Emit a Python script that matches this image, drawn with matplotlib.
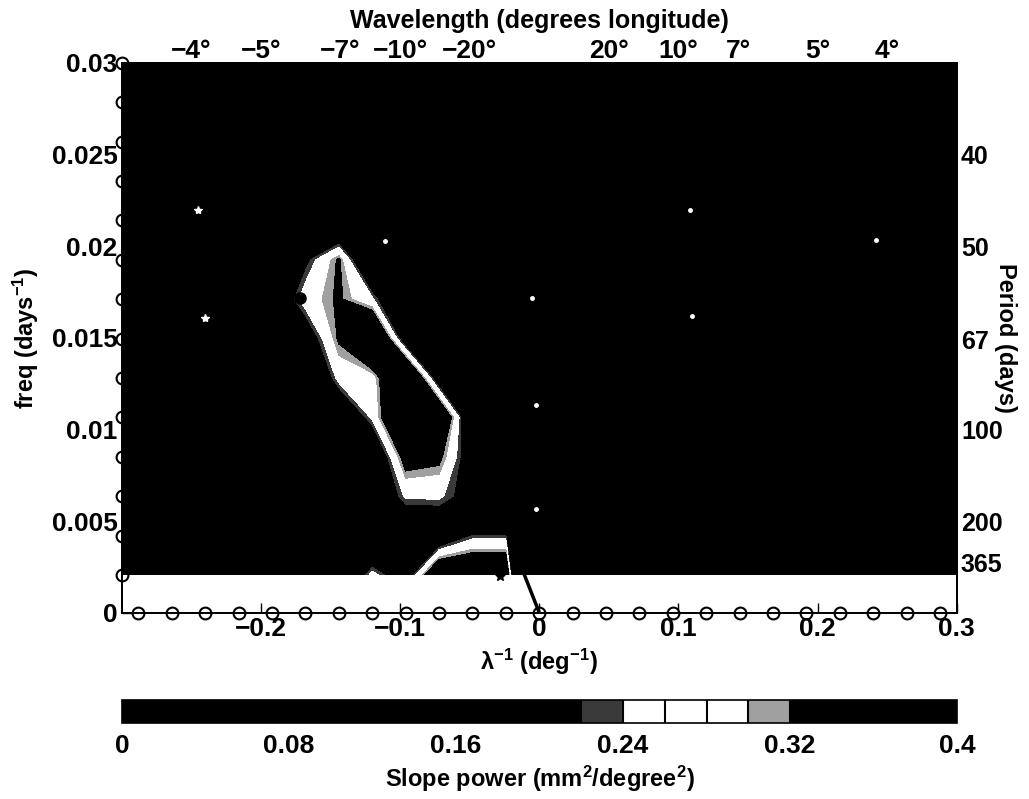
import numpy as np
import matplotlib
matplotlib.use('Agg')
import matplotlib.pyplot as plt
import matplotlib.cm as cm
from matplotlib.colors import ListedColormap, BoundaryNorm

plt.rcParams['font.family'] = ['Liberation Sans', 'DejaVu Sans']
plt.rcParams['font.weight'] = 'bold'
plt.rcParams['axes.labelweight'] = 'bold'
plt.rcParams['mathtext.fontset'] = 'custom'
plt.rcParams['mathtext.rm'] = 'Liberation Sans:bold'
plt.rcParams['mathtext.bf'] = 'Liberation Sans:bold'
plt.rcParams['mathtext.it'] = 'Liberation Sans:bold:italic'

# Wavenumber grid (deg^-1), marked with circles along f = 0
kx = [-0.288, -0.264, -0.240, -0.216, -0.192, -0.168, -0.144, -0.120, -0.096,
      -0.072, -0.048, -0.024, 0.0, 0.024, 0.048, 0.072, 0.096, 0.120, 0.144,
      0.168, 0.192, 0.216, 0.240, 0.264, 0.288]

# Frequency grid (days^-1), marked with circles along the left edge
fy = [0.00206, 0.00421, 0.00636, 0.00851, 0.01066, 0.01281, 0.01496,
      0.01711, 0.01926, 0.02141, 0.02356, 0.02571, 0.02786, 0.03000]

# Slope power on the grid, rows from top (0.030) down to bottom (0.002)
power = [
    [.05, .05, .05, .05, .05, .05, .05, .05, .05, .05, .05, .05, .05, .05, .05, .05, .05, .05, .05, .05, .05, .05, .05, .05, .05],
    [.05, .05, .05, .05, .05, .05, .05, .05, .05, .05, .05, .05, .05, .05, .05, .05, .05, .05, .05, .05, .05, .05, .05, .05, .05],
    [.05, .05, .05, .05, .05, .05, .05, .05, .05, .05, .05, .05, .05, .05, .05, .05, .05, .05, .05, .05, .05, .05, .05, .05, .05],
    [.05, .05, .05, .05, .05, .05, .05, .05, .05, .05, .05, .05, .05, .05, .05, .05, .05, .05, .05, .05, .05, .05, .05, .05, .05],
    [.05, .05, .05, .05, .05, .05, .05, .05, .05, .05, .05, .05, .05, .05, .05, .05, .05, .05, .05, .05, .05, .05, .05, .05, .05],
    [.05, .05, .05, .05, .05, .20, .33, .05, .05, .05, .05, .05, .05, .05, .05, .05, .05, .05, .05, .05, .05, .05, .05, .05, .05],
    [.05, .05, .05, .05, .12, .27, .33, .25, .05, .05, .05, .05, .05, .05, .05, .05, .05, .05, .05, .05, .05, .05, .05, .05, .05],
    [.05, .05, .05, .05, .05, .15, .33, .50, .15, .05, .05, .05, .05, .05, .05, .05, .05, .05, .05, .05, .05, .05, .05, .05, .05],
    [.05, .05, .05, .05, .05, .05, .26, .27, .50, .15, .05, .05, .05, .05, .05, .05, .05, .05, .05, .05, .05, .05, .05, .05, .05],
    [.05, .05, .05, .05, .05, .05, .10, .25, .50, .45, .10, .05, .05, .05, .05, .05, .05, .05, .05, .05, .05, .05, .05, .05, .05],
    [.05, .05, .05, .05, .05, .05, .05, .10, .36, .34, .15, .05, .05, .05, .05, .05, .05, .05, .05, .05, .05, .05, .05, .05, .05],
    [.05, .05, .05, .05, .05, .05, .05, .10, .25, .25, .18, .10, .05, .05, .05, .05, .05, .05, .05, .05, .05, .05, .05, .05, .05],
    [.05, .05, .05, .05, .05, .05, .05, .05, .10, .12, .22, .22, .10, .05, .05, .05, .05, .05, .05, .05, .05, .05, .05, .05, .05],
    [.05, .05, .05, .05, .05, .05, .05, .26, .15, .45, .45, .45, -1.0, .05, .05, .05, .05, .05, .05, .05, .05, .05, .05, .05, .05],
]

# contour levels and the printed grey scale
levels = [0.0, 0.02, 0.04, 0.06, 0.08, 0.10, 0.12, 0.14, 0.16, 0.18, 0.20,
          0.22, 0.24, 0.26, 0.28, 0.30, 0.32, 0.34, 0.36, 0.38, 0.40]
level_colors = ['black'] * 11 + ['#3a3a3a', 'white', 'white', 'white', '#a0a0a0'] + ['black'] * 4
cbar_ticks = [0, 0.08, 0.16, 0.24, 0.32, 0.4]
cbar_ticklabels = ['0', '0.08', '0.16', '0.24', '0.32', '0.4']

# marked spectral points
star_k = [-0.245, -0.240]
star_f = [0.02198, 0.01608]
dot_k = [-0.111, -0.005, -0.002, -0.002, 0.108, 0.110, 0.242]
dot_f = [0.02029, 0.01718, 0.01134, 0.00564, 0.02198, 0.01619, 0.02034]
peak_k = [-0.172]
peak_f = [0.01718]
annual_k = [-0.028]
annual_f = [0.00200]
line_k = [-0.015, 0.0]
line_f = [0.0029, 0.0]

# top axis: wavelengths (deg), right axis: periods (days)
wavelengths = [-4, -5, -7, -10, -20, 20, 10, 7, 5, 4]
periods = [40, 50, 67, 100, 200, 365]

FS = 19

fig = plt.figure(figsize=(10.29, 7.99), dpi=100)
ax = fig.add_axes([0.1183, 0.2332, 0.8115, 0.6880])

cmap = ListedColormap(level_colors)
cmap.set_under('black')
cmap.set_over('black')
norm = BoundaryNorm(levels, cmap.N)

# pad the field out to the plot edges so the fill covers the full width
kx_ext = np.r_[-0.3, kx, 0.3]
Z = np.flipud(np.array(power))
Z = np.pad(Z, ((0, 0), (1, 1)), mode='edge')
K, F = np.meshgrid(kx_ext, fy)
ax.contourf(K, F, Z, levels=levels, cmap=cmap, norm=norm, extend='both', zorder=2)

# grid markers
ax.plot(kx, np.zeros(len(kx)), 'o', mfc='none', mec='k', ms=8.5, mew=1.5,
        clip_on=False, zorder=1.5)
ax.plot(np.full(len(fy), -0.3), fy, 'o', mfc='none', mec='k', ms=8.5, mew=1.5,
        clip_on=False, zorder=1.5)

ax.plot(star_k, star_f, '*', color='white', ms=6, zorder=3)
ax.plot(dot_k, dot_f, '.', color='white', ms=5, zorder=3)
ax.plot(peak_k, peak_f, 'o', color='black', ms=8, zorder=3)
ax.plot(annual_k, annual_f, '*', color='black', ms=7, zorder=3)
ax.plot(line_k, line_f, '-', color='black', lw=2.5, zorder=3)

ax.set_xlim(-0.3, 0.3)
ax.set_ylim(0, 0.03)
ax.set_xticks([-0.2, -0.1, 0, 0.1, 0.2, 0.3])
ax.set_xticklabels(['\u22120.2', '\u22120.1', '0', '0.1', '0.2', '0.3'])
ax.set_yticks([0, 0.005, 0.01, 0.015, 0.02, 0.025, 0.03])
ax.set_yticklabels(['0', '0.005', '0.01', '0.015', '0.02', '0.025', '0.03'])
ax.tick_params(direction='in', length=7, width=1, labelsize=FS, pad=3)
ax.set_xlabel('\u03bb$^{-1}$ (deg$^{-1}$)', fontsize=17, labelpad=4)
ax.set_ylabel('freq (days$^{-1}$)', fontsize=17, labelpad=8)

# wavelength axis on top
ax_top = ax.twiny()
ax_top.set_xlim(ax.get_xlim())
ax_top.set_xticks([1.0 / w for w in wavelengths])
ax_top.set_xticklabels(['\u2212%d\u00b0' % abs(w) if w < 0 else '%d\u00b0' % w
                        for w in wavelengths])
ax_top.tick_params(direction='in', length=0, labelsize=FS, pad=0)
ax_top.set_xlabel('Wavelength (degrees longitude)', fontsize=18, labelpad=8)

# period axis on the right
ax_r = ax.twinx()
ax_r.set_ylim(ax.get_ylim())
ax_r.set_yticks([1.0 / p for p in periods])
ax_r.set_yticklabels([str(p) for p in periods])
ax_r.tick_params(direction='in', length=0, labelsize=18, pad=3)
ax_r.set_ylabel('Period (days)', fontsize=17, rotation=270, labelpad=10)

for a in (ax, ax_top, ax_r):
    for s in a.spines.values():
        s.set_linewidth(1.2)

# colorbar
cax = fig.add_axes([0.1186, 0.0951, 0.8115, 0.0288])
cb = fig.colorbar(cm.ScalarMappable(norm=norm, cmap=cmap), cax=cax,
                  orientation='horizontal', ticks=cbar_ticks, drawedges=True)
cb.ax.minorticks_off()
cb.ax.set_xticklabels(cbar_ticklabels)
cb.ax.tick_params(which='both', direction='in', length=0, labelsize=FS, pad=8)
cb.dividers.set_color('black')
cb.dividers.set_linewidth(1.5)
cb.outline.set_linewidth(1.2)
cb.set_label('Slope power (mm$^{2}$/degree$^{2}$)', fontsize=17, labelpad=4)

fig.savefig('out.png', dpi=100)
